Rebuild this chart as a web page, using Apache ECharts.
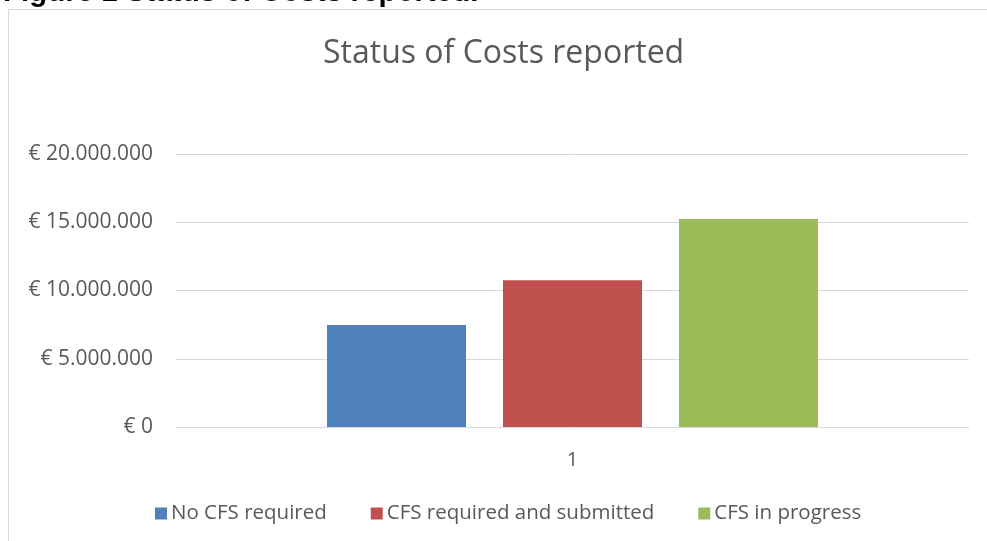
<!DOCTYPE html>
<html>
<head>
<meta charset="utf-8">
<title>Status of Costs reported</title>
<script src="https://cdn.jsdelivr.net/npm/echarts@6/dist/echarts.min.js"></script>
<style>
  html, body { margin: 0; padding: 0; background: #fff; }
  #chart { width: 987px; height: 541px; }
</style>
</head>
<body>
<div id="chart"></div>
<script>
const categories = ['1'];
const seriesNames = ['No CFS required', 'CFS required and submitted', 'CFS in progress'];
const seriesColors = ['#4f81bd', '#c0504d', '#9bbb59'];
const noCfsRequired = [7470000];
const cfsSubmitted = [10760000];
const cfsInProgress = [15230000];
const seriesValues = [noCfsRequired, cfsSubmitted, cfsInProgress];

// € 15.000.000 style labels
const formatEuro = (v) => '€ ' + String(v).replace(/\B(?=(\d{3})+(?!\d))/g, '.');

const chart = echarts.init(document.getElementById('chart'));

chart.setOption({
  animation: false,
  backgroundColor: '#fff',
  textStyle: { fontFamily: 'Open Sans' },
  title: {
    text: 'Status of Costs reported',
    left: 318,
    top: 33,
    textStyle: { color: '#595959', fontSize: 32, fontWeight: 'normal', fontFamily: 'Open Sans' }
  },
  graphic: [
    {
      type: 'text',
      left: 3,
      top: -22,
      z: -2,
      style: {
        text: 'Figure 1 Status of Costs reported.',
        fill: '#000',
        font: 'bold 29.5px "Liberation Sans", Arial, sans-serif'
      }
    },
    {
      type: 'rect',
      z: -1,
      shape: { x: 8.5, y: 9.5, width: 1100, height: 700 },
      style: { fill: '#fff', stroke: '#d9d9d9', lineWidth: 1 }
    }
  ],
  legend: {
    left: 150,
    top: 498,
    itemWidth: 12,
    itemHeight: 12,
    itemGap: 44,
    icon: 'rect',
    textStyle: { color: '#595959', fontSize: 20.5, fontFamily: 'Open Sans', padding: [0, 0, 0, -1] },
    data: seriesNames
  },
  grid: { left: 176, right: 18, top: 154, bottom: 114, containLabel: false },
  xAxis: {
    type: 'category',
    data: categories,
    axisLine: { show: true, lineStyle: { color: '#d9d9d9', width: 1 } },
    axisTick: { show: false },
    axisLabel: { color: '#595959', fontSize: 20, margin: 23 }
  },
  yAxis: {
    type: 'value',
    min: 0,
    max: 20000000,
    interval: 5000000,
    axisLine: { show: false },
    axisTick: { show: false },
    splitLine: { lineStyle: { color: '#d9d9d9', width: 1 } },
    axisLabel: { color: '#595959', fontSize: 21, margin: 23, formatter: formatEuro }
  },
  series: seriesNames.map((name, i) => ({
    name: name,
    type: 'bar',
    data: seriesValues[i],
    barWidth: 139,
    barGap: '26.6%',
    itemStyle: { color: seriesColors[i] }
  }))
});
</script>
</body>
</html>
